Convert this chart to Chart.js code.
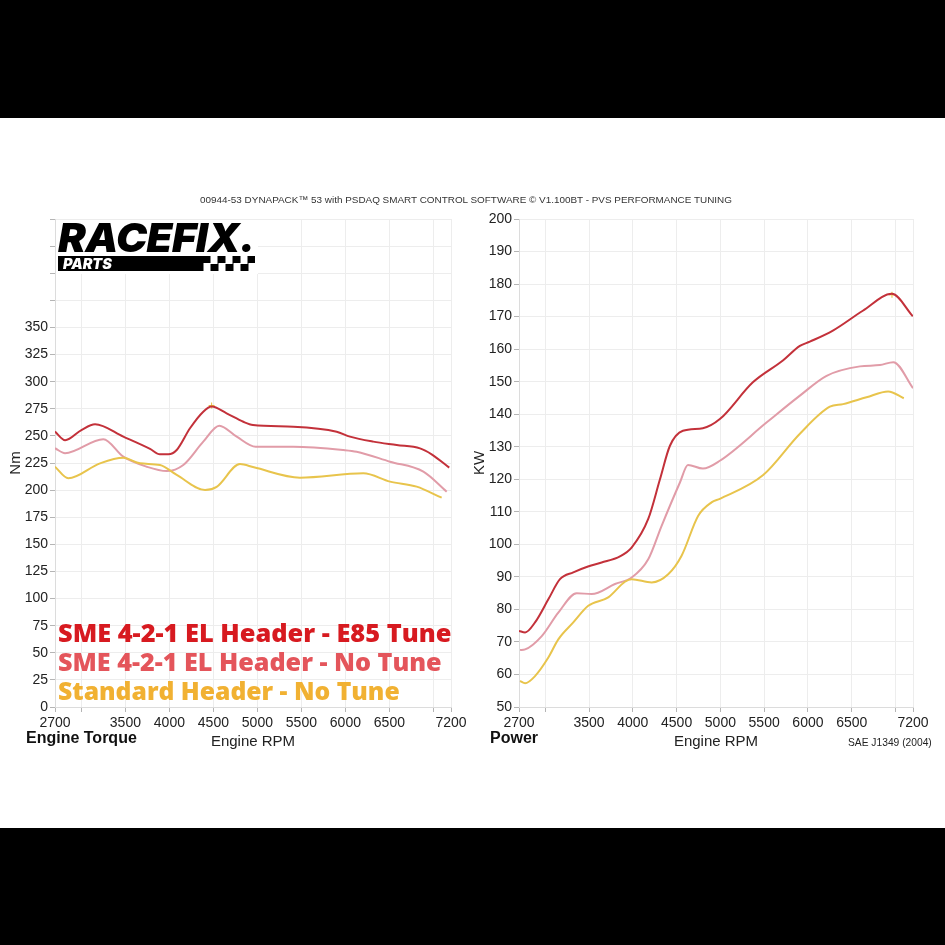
<!DOCTYPE html>
<html lang="en">
<head>
<meta charset="utf-8">
<title>Dyno - Engine Torque / Power</title>
<script src="https://cdn.jsdelivr.net/npm/chart.js@4.4.1/dist/chart.umd.min.js"></script>
<style>
  html, body { margin: 0; padding: 0; background: #000; }
  #pagina { position: relative; width: 945px; height: 945px; background: #000; overflow: hidden;
            font-family: "Liberation Sans", Arial, sans-serif; }
  #folha  { position: absolute; left: 0; top: 118px; width: 945px; height: 710px; background: #fff; }
  canvas  { position: absolute; top: 0; }
  #cvTorque { left: 0; }
  #cvPower  { left: 470px; }
  .txt { position: absolute; white-space: nowrap; }

  #cabecalho { left: 200px; top: 76px; height: 12px; line-height: 12px; font-size: 9.5px; color: #333; }

  /* logo */
  #logo   { position: absolute; left: 56px; top: 102px; width: 202px; height: 54px; background: #fff; }
  #logoTxt { left: 2px; top: -2px; height: 40px; line-height: 40px; font-family: Inter, Roboto, "Noto Sans", sans-serif;
             font-weight: 900; font-style: italic; font-size: 40px; color: #000; transform-origin: 0 0; letter-spacing: -0.5px; }
  #logoBar { position: absolute; left: 2px; top: 36px; width: 145px; height: 15px; background: #000; }
  #logoXadrez { position: absolute; left: 147px; top: 36px; width: 52px; height: 15px;
                background: repeating-conic-gradient(#000 0 25%, #fff 0 50%) -7.5px 0 / 15px 15px; }
  #logoParts { left: 7px; top: 36px; height: 15px; line-height: 15px; font-family: Inter, Roboto, "Noto Sans", sans-serif;
               font-weight: 900; font-style: italic; font-size: 13px; color: #fff; }

  /* legenda sobre o grafico de torque */
  .leg { left: 58px; height: 29px; line-height: 29px; font-family: "Open Sans", "Noto Sans", sans-serif;
         font-weight: 800; font-size: 23px; }
  #leg1 { top: 500px; color: #d71a20; }
  #leg2 { top: 529px; color: #e4555b; }
  #leg3 { top: 558px; color: #f1b132; }

  .nomeGraf { top: 610px; height: 20px; line-height: 20px; font-weight: 700; font-size: 16px; color: #111; }
  #nomeTorque { left: 26px; }
  #nomePower  { left: 490px; }
  #sae { left: 848px; top: 618px; height: 14px; line-height: 14px; font-size: 10.5px; color: #222; }
</style>
</head>
<body>
<div id="pagina">
  <div id="folha">
    <canvas id="cvTorque" width="470" height="710"></canvas>
    <canvas id="cvPower" width="475" height="710"></canvas>

    <div class="txt" id="cabecalho">00944-53 DYNAPACK™ 53 with PSDAQ SMART CONTROL SOFTWARE © V1.100BT - PVS PERFORMANCE TUNING</div>

    <div id="logo">
      <div class="txt" id="logoTxt">RACEFIX.</div>
      <div id="logoBar"></div>
      <div id="logoXadrez"></div>
      <div class="txt" id="logoParts">PARTS</div>
    </div>

    <div class="txt leg" id="leg1">SME 4-2-1 EL Header - E85 Tune</div>
    <div class="txt leg" id="leg2">SME 4-2-1 EL Header - No Tune</div>
    <div class="txt leg" id="leg3">Standard Header - No Tune</div>

    <div class="txt nomeGraf" id="nomeTorque">Engine Torque</div>
    <div class="txt nomeGraf" id="nomePower">Power</div>
    <div class="txt" id="sae">SAE J1349 (2004)</div>
  </div>
</div>

<script>
// === DADOS =================================================================
// eixo X (rpm) comum aos dois graficos
const rpmGrade   = [2700, 3000, 3500, 4000, 4500, 5000, 5500, 6000, 6500, 7000, 7200];
const rpmRotulos = [2700, 3500, 4000, 4500, 5000, 5500, 6000, 6500, 7200];

// torque (Nm)
const rpmTorqueE85 = [2700, 2815, 3000, 3155, 3476, 3780, 3893, 3988, 4083, 4234, 4385, 4480, 4650, 4840, 4950, 5408, 5901, 6052, 6317, 6583, 6848, 6980, 7180];
const torqueE85    = [254, 246, 255.4, 260.7, 249.3, 238, 233, 233, 237, 257, 272.3, 277, 270.8, 263, 260, 258.5, 253.9, 249.3, 244.7, 241.6, 238.5, 233, 220.7];

const rpmTorqueSme = [2700, 2814, 3249, 3476, 3742, 3969, 4158, 4385, 4567, 4765, 4980, 5408, 5976, 6128, 6507, 6886, 7151];
const torqueSme    = [238.6, 234, 246.9, 230.8, 221.6, 217.6, 223.2, 244.7, 259.4, 249.3, 240, 240, 237, 235.4, 226.2, 217, 198.5];

const rpmTorqueStd = [2700, 2851, 3211, 3476, 3666, 3893, 4083, 4405, 4537, 4802, 4960, 5484, 6203, 6507, 6810, 7094];
const torqueStd    = [221.6, 210.9, 224.7, 229.9, 224.7, 223.2, 214, 200.1, 203, 224, 221, 211.5, 215.5, 207.8, 203.2, 193];

const picoTorqueRpm = [4480];
const picoTorqueNm  = [278];

// potencia (kW)
const rpmPowerE85 = [2700, 2770, 2883, 3035, 3168, 3320, 3488, 3644, 3853, 3986, 4176, 4310, 4424, 4572, 4800, 4994, 5371, 5714, 5908, 6022, 6285, 6627, 6958, 7198];
const powerE85    = [73.4, 72.9, 76, 83.1, 89.3, 91.4, 93.2, 94.4, 96.3, 99, 107.8, 120, 130.3, 134.9, 135.7, 138.5, 149.8, 156.5, 161, 162.3, 165.7, 171.8, 177, 170.1];

const rpmPowerSme = [2712, 2770, 2960, 3149, 3359, 3530, 3796, 3987, 4176, 4329, 4538, 4630, 4800, 4994, 5530, 5908, 6213, 6594, 6822, 6975, 7200];
const powerSme    = [67.5, 67.7, 71.8, 79, 85, 84.7, 87.8, 89.8, 95.4, 105.7, 119, 124.4, 123.3, 125.7, 137.5, 145.7, 151.8, 154.7, 155.1, 156, 148];

const rpmPowerStd = [2712, 2770, 2883, 3035, 3149, 3320, 3491, 3719, 3910, 3987, 4215, 4404, 4557, 4747, 4899, 4994, 5489, 5908, 6250, 6402, 6669, 6916, 7095];
const powerStd    = [58, 57.3, 59.5, 65.2, 70.8, 76, 81.1, 83.7, 88.5, 89.3, 88.3, 90.8, 96.5, 108.8, 112.9, 114, 121.3, 134, 142.3, 143.1, 145.2, 147, 144.9];

const picoPowerRpm = [6960];
const picoPowerKw  = [176.7];

// === ESTILO ================================================================
const corE85   = '#c3313a';
const corSme   = '#e19ca8';
const corStd   = '#e8c44c';
const corGrade = '#ededed';
const fonte    = '"Liberation Sans", Arial, sans-serif';

Chart.defaults.font.family = fonte;
Chart.defaults.color = '#222';

// === HELPERS ===============================================================
function pares(xs, ys) {
  return xs.map((x, i) => ({ x, y: ys[i] }));
}

function serie(xs, ys, cor) {
  return { data: pares(xs, ys), borderColor: cor, borderWidth: 2, pointRadius: 0,
           cubicInterpolationMode: 'monotone', fill: false };
}

function marcaPico(xs, ys) {
  return { data: pares(xs, ys), showLine: false, pointStyle: 'cross', pointRadius: 3,
           pointBorderColor: '#e6c13a', pointBorderWidth: 1 };
}

function criaGrafico(canvas, cfg) {
  return new Chart(canvas, {
    type: 'line',
    data: { datasets: cfg.datasets },
    options: {
      responsive: false,
      animation: false,
      layout: { padding: { top: 101, right: cfg.padDir, bottom: 69, left: 0 } },
      plugins: { legend: { display: false }, tooltip: { enabled: false } },
      scales: {
        x: {
          type: 'linear', min: 2700, max: 7200,
          afterBuildTicks: s => { s.ticks = rpmGrade.map(v => ({ value: v })); },
          afterFit: s => { s.height = 52; },
          ticks: { autoSkip: false, maxRotation: 0, padding: 3, font: { size: 14 },
                   callback: v => rpmRotulos.includes(v) ? String(v) : '' },
          grid: { color: corGrade, tickColor: '#b5b5b5', tickLength: 5 },
          border: { color: '#dcdcdc' },
          title: { display: true, text: 'Engine RPM', font: { size: 15 }, padding: { top: 0, bottom: 8 } }
        },
        y: {
          min: cfg.yMin, max: cfg.yMax,
          afterFit: s => { s.width = cfg.largY; },
          ticks: { stepSize: cfg.passo, padding: 2, font: { size: 14 },
                   callback: v => v <= cfg.yRotuloMax ? String(v) : '' },
          grid: { color: corGrade, tickColor: '#b5b5b5', tickLength: 5 },
          border: { color: '#dcdcdc' },
          title: { display: true, text: cfg.tituloY, font: { size: 15 }, padding: { top: cfg.padTitulo, bottom: 0 } }
        }
      }
    }
  });
}

// === GRAFICOS ==============================================================
criaGrafico(document.getElementById('cvTorque'), {
  datasets: [
    serie(rpmTorqueStd, torqueStd, corStd),
    serie(rpmTorqueSme, torqueSme, corSme),
    serie(rpmTorqueE85, torqueE85, corE85),
    marcaPico(picoTorqueRpm, picoTorqueNm)
  ],
  yMin: 0, yMax: 450, passo: 25, yRotuloMax: 350,
  largY: 55, padDir: 19, tituloY: 'Nm', padTitulo: 7
});

criaGrafico(document.getElementById('cvPower'), {
  datasets: [
    serie(rpmPowerStd, powerStd, corStd),
    serie(rpmPowerSme, powerSme, corSme),
    serie(rpmPowerE85, powerE85, corE85),
    marcaPico(picoPowerRpm, picoPowerKw)
  ],
  yMin: 50, yMax: 200, passo: 10, yRotuloMax: 200,
  largY: 49, padDir: 32, tituloY: 'KW', padTitulo: 1
});

// === AJUSTE DE TEXTOS ======================================================
// ajusta o tamanho da fonte para bater com a largura medida na imagem
function ajustaFonte(id, alvo) {
  const el = document.getElementById(id);
  const fs = parseFloat(getComputedStyle(el).fontSize);
  el.style.fontSize = (fs * alvo / el.offsetWidth) + 'px';
}
function esticaX(id, alvo) {
  const el = document.getElementById(id);
  el.style.transform = `scaleX(${alvo / el.offsetWidth})`;
}

ajustaFonte('cabecalho', 533);
ajustaFonte('leg1', 394);
ajustaFonte('leg2', 384);
ajustaFonte('leg3', 342);
ajustaFonte('sae', 84);
esticaX('logoTxt', 197);
ajustaFonte('logoParts', 49);
</script>
</body>
</html>
